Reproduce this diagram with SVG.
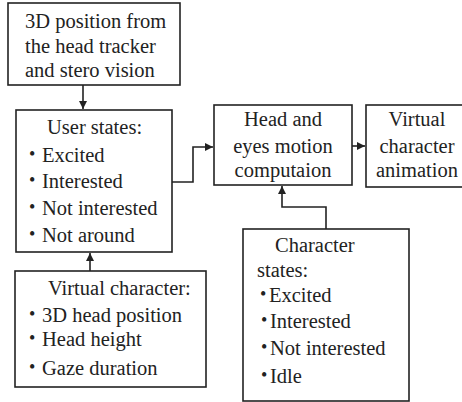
<svg xmlns="http://www.w3.org/2000/svg" width="462" height="402" viewBox="0 0 462 402">
<style>
.n{fill:#fff;stroke:#222;stroke-width:1.6}
text{font-family:"Liberation Serif","Times New Roman",serif;font-size:20.5px;fill:#222}
.c{text-anchor:middle}
.b{font-size:18px}
path.l{fill:none;stroke:#222;stroke-width:1.6}
</style>
<defs>
<marker id="a" viewBox="0 0 10 10" refX="10" refY="5" markerWidth="5" markerHeight="5" orient="auto" markerUnits="strokeWidth">
<path d="M0,0L10,5L0,10z" fill="#222"/>
</marker>
</defs>
<rect width="462" height="402" fill="#fff"/>
<g id="connectors">
<path class="l" d="M83,85V109" marker-end="url(#a)"/>
<path class="l" d="M172,182H193V147H213" marker-end="url(#a)"/>
<path class="l" d="M90,271V253" marker-end="url(#a)"/>
<path class="l" d="M352,146H365" marker-end="url(#a)"/>
<path class="l" d="M326,229V207H282V186" marker-end="url(#a)"/>
</g>
<g id="n1">
<rect class="n" x="8" y="3" width="172" height="82"/>
<text x="25" y="28">3D position from</text>
<text x="25" y="53">the head tracker</text>
<text x="25" y="77">and stero vision</text>
</g>
<g id="n2">
<rect class="n" x="16" y="110" width="156" height="142"/>
<text x="47" y="134">User states:</text>
<text x="29" y="160" class="b">•</text><text x="42" y="162">Excited</text>
<text x="29" y="186" class="b">•</text><text x="42" y="188">Interested</text>
<text x="29" y="213" class="b">•</text><text x="42" y="215">Not interested</text>
<text x="29" y="240" class="b">•</text><text x="42" y="242">Not around</text>
</g>
<g id="n3">
<rect class="n" x="15" y="271" width="191" height="116"/>
<text x="48" y="295">Virtual character:</text>
<text x="29" y="320" class="b">•</text><text x="42" y="322">3D head position</text>
<text x="29" y="344" class="b">•</text><text x="42" y="346">Head height</text>
<text x="29" y="373" class="b">•</text><text x="42" y="375">Gaze duration</text>
</g>
<g id="n4">
<rect class="n" x="214" y="105" width="138" height="80"/>
<text x="283" y="126" class="c">Head and</text>
<text x="283" y="153" class="c">eyes motion</text>
<text x="283" y="177" class="c">computaion</text>
</g>
<g id="n5">
<rect class="n" x="366" y="105" width="100" height="82"/>
<text x="417" y="126" class="c">Virtual</text>
<text x="417" y="153" class="c">character</text>
<text x="417" y="177" class="c">animation</text>
</g>
<g id="n6">
<rect class="n" x="243" y="229" width="166" height="172"/>
<text x="275" y="252">Character</text>
<text x="257" y="277">states:</text>
<text x="260" y="300" class="b">•</text><text x="269" y="302">Excited</text>
<text x="261" y="326" class="b">•</text><text x="270" y="328">Interested</text>
<text x="261" y="353" class="b">•</text><text x="270" y="355">Not interested</text>
<text x="261" y="381" class="b">•</text><text x="270" y="383">Idle</text>
</g>
</svg>
